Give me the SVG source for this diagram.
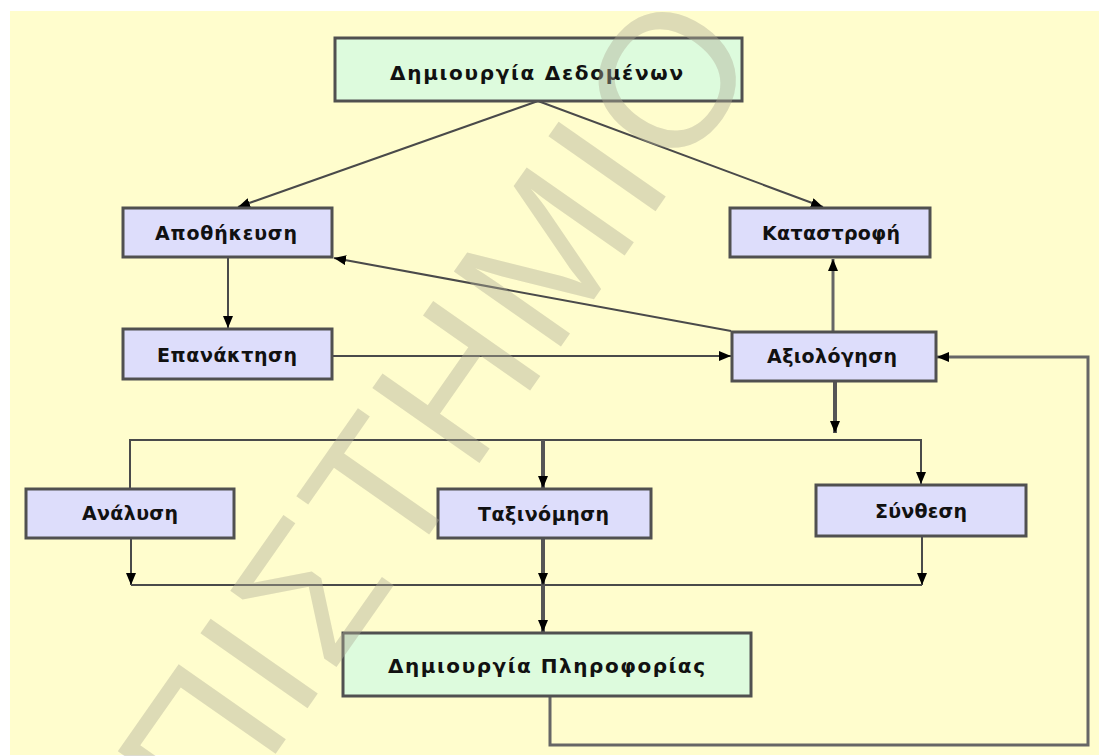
<svg xmlns="http://www.w3.org/2000/svg" width="1099" height="756" viewBox="0 0 1099 756">
<style>
.bg{fill:#FFFDCD}
.boxP{fill:#DDDDFB;stroke:#505050;stroke-width:3}
.boxG{fill:#DDFBDD;stroke:#505050;stroke-width:3}
.lbl{font-family:"DejaVu Sans","Liberation Sans",sans-serif;font-weight:bold;font-size:19px;fill:#111;text-anchor:middle}
.ln{fill:none;stroke:#4a4a4a;stroke-width:2}
.thk{fill:none;stroke:#555;stroke-width:4}
.mid{fill:none;stroke:#666;stroke-width:3}
.wm{font-family:"Liberation Sans",Arial,sans-serif;font-size:190px;fill:rgb(175,171,150);fill-opacity:0.42;letter-spacing:5px}
</style>
<defs>
<marker id="ah" viewBox="0 0 12 10" refX="12" refY="5" markerWidth="12" markerHeight="10" markerUnits="userSpaceOnUse" orient="auto">
<path d="M0,0 L12,5 L0,10 z" fill="#000"/>
</marker>
</defs>
<rect width="1099" height="756" fill="#fff"/>
<rect class="bg" x="10" y="11" width="1089" height="744"/>

<g id="connectors">
<line class="ln" x1="538" y1="101" x2="238" y2="207" marker-end="url(#ah)"/>
<line class="ln" x1="538" y1="101" x2="823" y2="207" marker-end="url(#ah)"/>
<line class="ln" x1="228" y1="258" x2="228" y2="328" marker-end="url(#ah)"/>
<line class="ln" x1="731" y1="331" x2="334" y2="258" marker-end="url(#ah)"/>
<line class="ln" x1="333" y1="356" x2="731" y2="356" marker-end="url(#ah)"/>
<line class="mid" x1="833" y1="331" x2="833" y2="259" marker-end="url(#ah)"/>
<line class="thk" x1="835" y1="382" x2="835" y2="433" marker-end="url(#ah)"/>
<polyline class="ln" points="130,488 130,440 921,440 921,484" marker-end="url(#ah)"/>
<line class="thk" x1="543" y1="440" x2="543" y2="488" marker-end="url(#ah)"/>
<line class="ln" x1="131" y1="539" x2="131" y2="585" marker-end="url(#ah)"/>
<line class="ln" x1="922" y1="537" x2="922" y2="585" marker-end="url(#ah)"/>
<line class="ln" x1="131" y1="585" x2="922" y2="585"/>
<line class="thk" x1="543" y1="539" x2="543" y2="585" marker-end="url(#ah)"/>
<line class="thk" x1="543" y1="585" x2="543" y2="632" marker-end="url(#ah)"/>
<polyline class="mid" points="550,697 550,745 1088,745 1088,357 937,357" marker-end="url(#ah)"/>
</g>

<g id="n-dedomena"><rect class="boxG" x="335" y="38" width="407" height="63"/><text class="lbl" x="536.5" y="80" font-size="20" textLength="293" lengthAdjust="spacing" style="font-size:20px">Δημιουργία Δεδομένων</text></g>
<g id="n-apothikeusi"><rect class="boxP" x="123" y="208" width="209" height="49"/><text class="lbl" x="226" y="240" textLength="142" lengthAdjust="spacing">Αποθήκευση</text></g>
<g id="n-katastrofi"><rect class="boxP" x="730" y="208" width="200" height="49"/><text class="lbl" x="831" y="240" textLength="138" lengthAdjust="spacing">Καταστροφή</text></g>
<g id="n-epanaktisi"><rect class="boxP" x="123" y="329" width="209" height="50"/><text class="lbl" x="227" y="362" textLength="140" lengthAdjust="spacing">Επανάκτηση</text></g>
<g id="n-axiologisi"><rect class="boxP" x="732" y="332" width="204" height="49"/><text class="lbl" x="832" y="363" textLength="130" lengthAdjust="spacing">Αξιολόγηση</text></g>
<g id="n-analysi"><rect class="boxP" x="26" y="489" width="208" height="49"/><text class="lbl" x="130" y="520" textLength="96" lengthAdjust="spacing">Ανάλυση</text></g>
<g id="n-taxinomisi"><rect class="boxP" x="438" y="489" width="213" height="49"/><text class="lbl" x="543.5" y="521" textLength="131" lengthAdjust="spacing">Ταξινόμηση</text></g>
<g id="n-synthesi"><rect class="boxP" x="816" y="485" width="210" height="51"/><text class="lbl" x="921" y="518" textLength="92" lengthAdjust="spacing">Σύνθεση</text></g>
<g id="n-pliroforia"><rect class="boxG" x="343" y="633" width="408" height="63"/><text class="lbl" x="546.5" y="673" textLength="317" lengthAdjust="spacing" style="font-size:20px">Δημιουργία Πληροφορίας</text></g>

<text class="wm" transform="translate(216,839) rotate(-55)" x="0" y="0">ΠΙΣΤΗΜΙΟ</text>
</svg>
